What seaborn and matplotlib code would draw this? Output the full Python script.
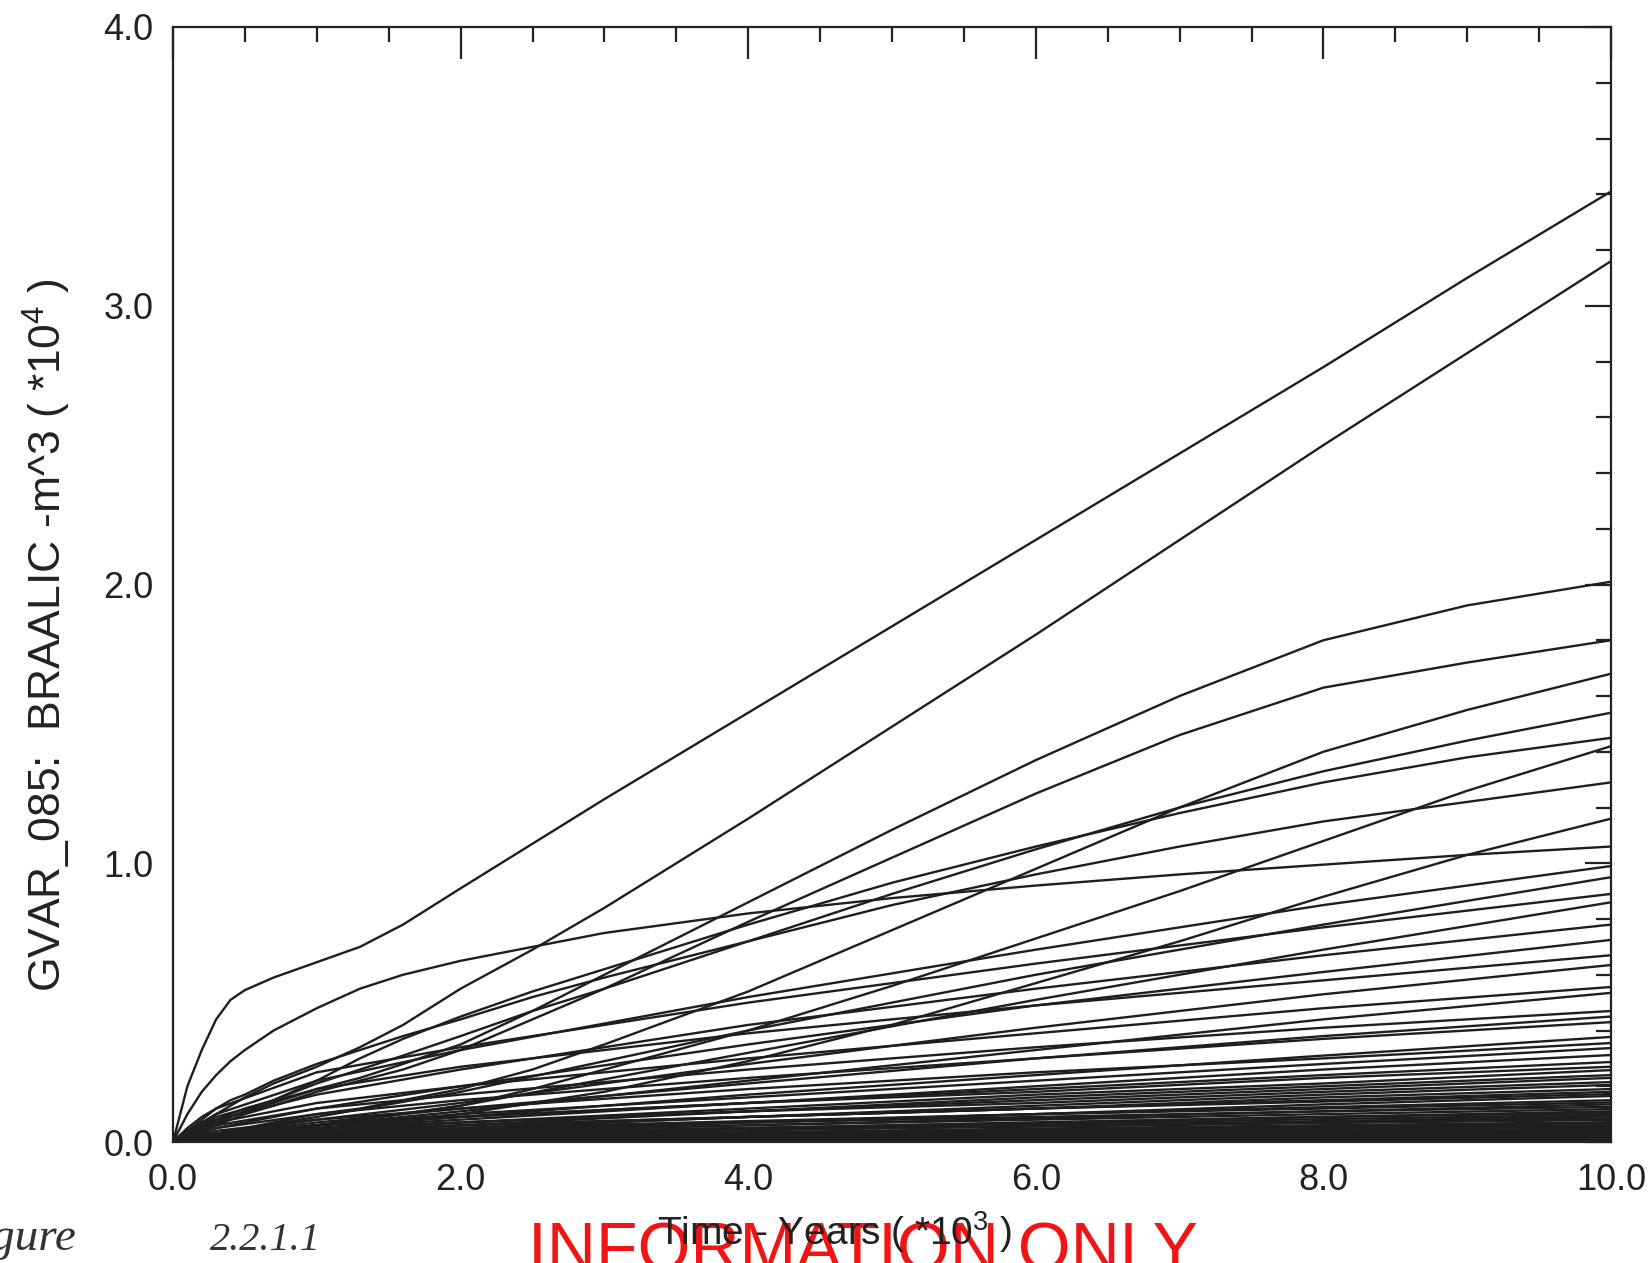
import pandas as pd
import matplotlib
matplotlib.use("Agg")
import matplotlib.pyplot as plt
from matplotlib.ticker import MultipleLocator, FormatStrFormatter
import seaborn as sns

# ------------------------------
# 1. Curve values (time in 10^3 yr, volume in 10^4 m^3)
# ------------------------------
t_upper = [0, 0.1, 0.2, 0.3, 0.4, 0.5, 0.7, 1, 1.3, 1.6, 2, 2.5, 3, 4, 5, 6, 7, 8, 9, 10]

u_top = [0, 0.20, 0.33, 0.44, 0.51, 0.545, 0.59, 0.645, 0.70, 0.78, 0.91, 1.07, 1.23,
         1.54, 1.85, 2.16, 2.47, 2.78, 3.10, 3.41]
u_106 = [0, 0.10, 0.18, 0.24, 0.29, 0.33, 0.40, 0.48, 0.55, 0.60, 0.65, 0.70, 0.75,
         0.82, 0.875, 0.92, 0.96, 0.995, 1.03, 1.06]
u_second = [0, 0.04, 0.07, 0.10, 0.13, 0.16, 0.21, 0.27, 0.34, 0.42, 0.55, 0.69, 0.84,
            1.16, 1.49, 1.82, 2.16, 2.50, 2.83, 3.16]
u_201 = [0, 0.03, 0.05, 0.07, 0.09, 0.11, 0.14, 0.19, 0.23, 0.28, 0.35, 0.47, 0.60,
         0.86, 1.12, 1.37, 1.60, 1.80, 1.925, 2.01]
u_180 = [0, 0.02, 0.04, 0.06, 0.08, 0.10, 0.13, 0.18, 0.22, 0.26, 0.33, 0.44, 0.55,
         0.79, 1.02, 1.25, 1.46, 1.63, 1.72, 1.80]
u_168 = [0, 0.01, 0.02, 0.03, 0.04, 0.05, 0.07, 0.10, 0.12, 0.15, 0.19, 0.26, 0.35,
         0.54, 0.76, 0.98, 1.20, 1.40, 1.55, 1.68]
u_154 = [0, 0.03, 0.06, 0.08, 0.10, 0.12, 0.15, 0.21, 0.26, 0.31, 0.38, 0.47, 0.55,
         0.72, 0.89, 1.05, 1.20, 1.33, 1.44, 1.54]
u_145 = [0, 0.03, 0.05, 0.07, 0.09, 0.11, 0.15, 0.22, 0.30, 0.37, 0.45, 0.54, 0.62,
         0.78, 0.93, 1.06, 1.18, 1.29, 1.38, 1.45]
u_142 = [0, 0.005, 0.01, 0.02, 0.025, 0.03, 0.04, 0.06, 0.08, 0.10, 0.13, 0.19, 0.26,
         0.40, 0.56, 0.73, 0.90, 1.08, 1.26, 1.42]
u_129 = [0, 0.05, 0.09, 0.12, 0.15, 0.17, 0.22, 0.28, 0.33, 0.38, 0.44, 0.52, 0.59,
         0.72, 0.85, 0.96, 1.06, 1.15, 1.22, 1.29]
u_116 = [0, 0.003, 0.006, 0.01, 0.015, 0.02, 0.03, 0.045, 0.06, 0.075, 0.10, 0.14, 0.18,
         0.29, 0.42, 0.57, 0.72, 0.88, 1.03, 1.16]

upper_curves = [u_top, u_106, u_second, u_201, u_180, u_168, u_154, u_145,
                u_142, u_129, u_116]

t_band = [0, 0.3, 1, 2, 4, 6, 8, 10]

band_curves = [
    [0, 0.10, 0.22, 0.33, 0.52, 0.69, 0.85, 0.99],
    [0, 0.03, 0.09, 0.18, 0.40, 0.60, 0.78, 0.95],
    [0, 0.12, 0.25, 0.34, 0.50, 0.64, 0.77, 0.89],
    [0, 0.02, 0.06, 0.13, 0.32, 0.51, 0.69, 0.86],
    [0, 0.08, 0.17, 0.26, 0.42, 0.55, 0.67, 0.78],
    [0, 0.05, 0.12, 0.20, 0.35, 0.49, 0.61, 0.725],
    [0, 0.09, 0.19, 0.27, 0.39, 0.49, 0.58, 0.67],
    [0, 0.03, 0.08, 0.14, 0.28, 0.41, 0.53, 0.635],
    [0, 0.07, 0.14, 0.20, 0.30, 0.39, 0.48, 0.556],
    [0, 0.02, 0.06, 0.11, 0.22, 0.33, 0.44, 0.535],
    [0, 0.06, 0.12, 0.17, 0.26, 0.34, 0.41, 0.47],
    [0, 0.03, 0.07, 0.12, 0.21, 0.30, 0.38, 0.45],
    [0, 0.05, 0.10, 0.15, 0.23, 0.30, 0.37, 0.43],
    [0, 0.02, 0.05, 0.09, 0.17, 0.24, 0.31, 0.377],
    [0, 0.04, 0.08, 0.12, 0.19, 0.25, 0.30, 0.355],
    [0, 0.03, 0.06, 0.10, 0.16, 0.22, 0.28, 0.337],
    [0, 0.02, 0.05, 0.08, 0.14, 0.20, 0.26, 0.312],
    [0, 0.03, 0.06, 0.09, 0.14, 0.19, 0.24, 0.287],
    [0, 0.03, 0.06, 0.09, 0.14, 0.18, 0.23, 0.27],
    [0, 0.02, 0.04, 0.07, 0.12, 0.17, 0.21, 0.258],
    [0, 0.01, 0.03, 0.06, 0.11, 0.16, 0.20, 0.24],
    [0, 0.02, 0.05, 0.07, 0.11, 0.15, 0.19, 0.23],
    [0, 0.03, 0.05, 0.07, 0.11, 0.14, 0.18, 0.215],
    [0, 0.01, 0.03, 0.05, 0.09, 0.13, 0.17, 0.205],
    [0, 0.01, 0.03, 0.05, 0.09, 0.12, 0.16, 0.19],
    [0, 0.02, 0.04, 0.06, 0.09, 0.12, 0.15, 0.18],
    [0, 0.02, 0.04, 0.06, 0.09, 0.12, 0.145, 0.172],
    [0, 0.01, 0.02, 0.04, 0.07, 0.10, 0.135, 0.165],
    [0, 0.01, 0.03, 0.04, 0.07, 0.10, 0.125, 0.15],
    [0, 0.02, 0.035, 0.05, 0.075, 0.10, 0.12, 0.142],
    [0, 0.01, 0.02, 0.035, 0.06, 0.085, 0.11, 0.135],
    [0, 0.02, 0.03, 0.045, 0.07, 0.09, 0.11, 0.126],
    [0, 0.015, 0.03, 0.04, 0.06, 0.08, 0.10, 0.118],
    [0, 0.01, 0.02, 0.03, 0.05, 0.07, 0.09, 0.11],
    [0, 0.01, 0.02, 0.03, 0.05, 0.07, 0.09, 0.104],
    [0, 0.012, 0.025, 0.035, 0.05, 0.065, 0.082, 0.098],
    [0, 0.008, 0.015, 0.025, 0.042, 0.058, 0.075, 0.092],
    [0, 0.01, 0.02, 0.03, 0.045, 0.058, 0.072, 0.085],
    [0, 0.01, 0.02, 0.03, 0.045, 0.055, 0.068, 0.079],
    [0, 0.008, 0.015, 0.022, 0.035, 0.048, 0.06, 0.071],
    [0, 0.006, 0.012, 0.02, 0.032, 0.043, 0.055, 0.066],
    [0, 0.007, 0.013, 0.02, 0.03, 0.04, 0.05, 0.06],
    [0, 0.005, 0.01, 0.018, 0.03, 0.04, 0.047, 0.054],
    [0, 0.005, 0.01, 0.016, 0.026, 0.034, 0.041, 0.048],
    [0, 0.006, 0.011, 0.016, 0.024, 0.031, 0.037, 0.043],
    [0, 0.004, 0.008, 0.013, 0.021, 0.027, 0.033, 0.038],
    [0, 0.005, 0.01, 0.015, 0.02, 0.025, 0.028, 0.032],
    [0, 0.004, 0.008, 0.012, 0.018, 0.022, 0.025, 0.027],
    [0, 0.003, 0.006, 0.01, 0.015, 0.018, 0.02, 0.022],
    [0, 0.004, 0.007, 0.01, 0.013, 0.015, 0.017, 0.018],
    [0, 0.003, 0.005, 0.007, 0.009, 0.01, 0.011, 0.012],
    [0, 0.002, 0.003, 0.004, 0.005, 0.006, 0.007, 0.007],
]

# ------------------------------
# 2. Long-form table for seaborn
# ------------------------------
rows = []
for i, vals in enumerate(upper_curves):
    for t, v in zip(t_upper, vals):
        rows.append(("u%d" % i, t, v))
for i, vals in enumerate(band_curves):
    for t, v in zip(t_band, vals):
        rows.append(("b%d" % i, t, v))
df = pd.DataFrame(rows, columns=["run", "time", "volume"])

# ------------------------------
# 3. Plot
# ------------------------------
sns.set_style("white")
plt.rcParams["font.family"] = ["Liberation Sans", "DejaVu Sans"]
plt.rcParams["mathtext.fontset"] = "custom"
plt.rcParams["mathtext.rm"] = "Liberation Sans"
plt.rcParams["mathtext.default"] = "regular"

W, H = 1650, 1263
ink = "#222222"
fig = plt.figure(figsize=(W / 100, H / 100), dpi=100)
ax = fig.add_axes([173 / W, 1 - 1142 / H, (1611 - 173) / W, (1142 - 27) / H])

sns.lineplot(data=df, x="time", y="volume", units="run", estimator=None,
             color="#1e1e1e", lw=1.7, ax=ax, legend=False)

ax.set_xlim(0, 10)
ax.set_ylim(0, 4)
ax.xaxis.set_major_locator(MultipleLocator(2))
ax.xaxis.set_minor_locator(MultipleLocator(0.5))
ax.yaxis.set_major_locator(MultipleLocator(1))
ax.yaxis.set_minor_locator(MultipleLocator(0.2))
ax.xaxis.set_major_formatter(FormatStrFormatter("%.1f"))
ax.yaxis.set_major_formatter(FormatStrFormatter("%.1f"))
ax.tick_params(which="both", direction="in", top=True, right=True,
               width=1.6, color=ink, labelsize=26, labelcolor=ink)
ax.tick_params(axis="x", which="major", length=23, pad=15)
ax.tick_params(axis="y", which="major", length=19, pad=14)
ax.tick_params(which="minor", length=11)
for sp in ax.spines.values():
    sp.set_linewidth(1.6)
    sp.set_color(ink)
ax.set_xlabel("")
ax.set_ylabel("")

fig.text(863 / W, -0.006, "INFORMATION ONLY", ha="center", va="baseline",
         fontsize=49, color="#f01414", zorder=1)
fig.text(835 / W, 1 - 1245 / H, "Time - Years ( *10$^3$ )", ha="center",
         va="baseline", fontsize=28, color=ink, zorder=5)
fig.text(47 / W, 1 - 635 / H, "GVAR_085:  BRAALIC -m^3 ( *10$^4$ )",
         rotation=90, ha="center", va="center", fontsize=32, color=ink)

# handwritten figure number in the margin
fig.text(76 / W, 1 - 1250 / H, "Figure", ha="right", va="baseline",
         family="Liberation Serif", style="italic", fontsize=34, color="#333333")
fig.text(210 / W, 1 - 1250 / H, "2.2.1.1", ha="left", va="baseline",
         family="Liberation Serif", style="italic", fontsize=29, color="#333333")

fig.savefig("out.png", dpi=100)
